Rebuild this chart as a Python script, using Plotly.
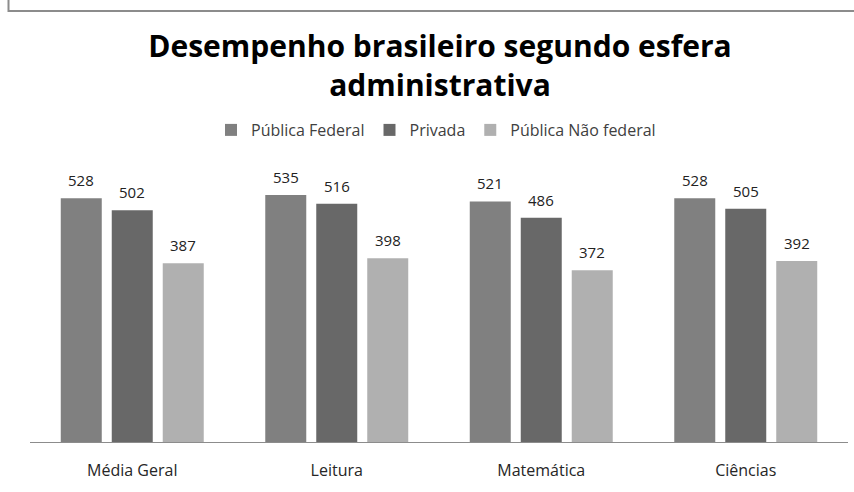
import plotly.graph_objects as go

categories = ["Média Geral", "Leitura", "Matemática", "Ciências"]
series_names = ["Pública Federal", "Privada", "Pública Não federal"]
publica_federal = [528, 535, 521, 528]
privada = [502, 516, 486, 505]
publica_nao_federal = [387, 398, 372, 392]
colors = ["#808080", "#686868", "#b0b0b0"]

FONT = "Open Sans"
W, H = 854, 492
L, R, T, B = 30, 6, 165, 50
pw, ph = W - L - R, H - T - B
SLOT = 51  # px between bar centers within a group

def px(xpix):
    return (xpix - L) / pw

def py(ypix):
    return (H - B - ypix) / ph

fig = go.Figure()
annotations = []
all_series = [publica_federal, privada, publica_nao_federal]
for i, (name, vals, col) in enumerate(zip(series_names, all_series, colors)):
    fig.add_trace(go.Bar(
        x=categories, y=vals, name=name, marker=dict(color=col, line=dict(width=0)),
    ))
    for c, v in zip(categories, vals):
        annotations.append(dict(
            x=c, y=v, xref="x", yref="y", text=str(v), showarrow=False,
            xshift=(i - 1) * SLOT, yshift=6, yanchor="bottom",
            font=dict(family=FONT, size=15, color="#222222"),
        ))

fig.update_layout(
    width=W, height=H,
    margin=dict(l=L, r=R, t=T, b=B),
    paper_bgcolor="white", plot_bgcolor="white",
    barmode="group", bargap=0.252, bargroupgap=0.196,
    title=dict(text="<b>Desempenho brasileiro segundo esfera<br>administrativa</b>",
               x=440 / W, xanchor="center", y=1 - 57 / H, yanchor="middle",
               font=dict(family=FONT, size=30, color="#000000")),
    legend=dict(orientation="h", x=px(436), xanchor="center", y=py(130), yanchor="middle",
                font=dict(family=FONT, size=16, color="#404040"),
                traceorder="normal"),
    xaxis=dict(showline=True, linecolor="#8c8c8c", linewidth=1, ticks="",
               ticklabelstandoff=14,
               tickfont=dict(family=FONT, size=16, color="#262626"), showgrid=False),
    yaxis=dict(range=[0, 600], visible=False, showgrid=False),
    annotations=annotations,
    shapes=[dict(type="path", xref="paper", yref="paper",
                 path=f"M {px(8.5)},{py(-10)} L {px(8.5)},{py(11)} L {px(870)},{py(11)}",
                 line=dict(color="#8c8c8c", width=2))],
    showlegend=True,
)
fig.write_html("out.html", config={"displayModeBar": False})

with open("out.html", "r", encoding="utf-8") as f:
    html = f.read()
html = html.replace("<head>", "<head><style>html,body{margin:0;padding:0;overflow:hidden}</style>", 1)
with open("out.html", "w", encoding="utf-8") as f:
    f.write(html)
